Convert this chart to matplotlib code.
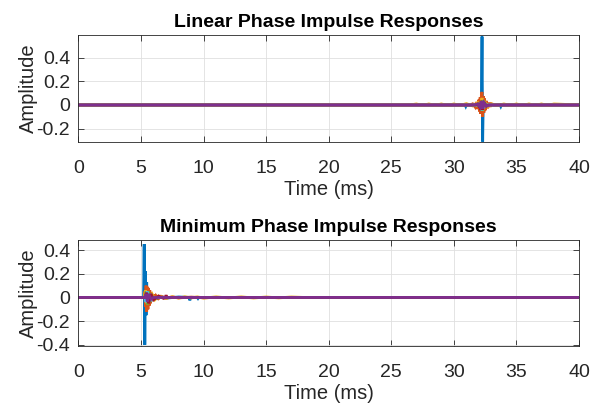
import matplotlib.pyplot as plt
import numpy as np

plt.rcParams['font.family'] = ['Liberation Sans', 'DejaVu Sans']

# MATLAB default colour order
colors = ['#0072BD', '#D95319', '#EDB120', '#77AC30', '#4DBEEE', '#A2142F', '#7E2F8E']

# ---- linear phase responses (time in ms, amplitude) ----
lin_t_blue = [0, 30.9, 30.95, 31.0, 31.8, 32.0, 32.1, 32.2, 32.25, 32.3, 32.35, 32.45, 32.6, 33.7, 33.75, 33.8, 40]
lin_a_blue = [0, 0, -0.012, 0, 0, 0.01, -0.02, 0.05, 0.58, -0.31, 0.04, -0.01, 0, 0, -0.012, 0, 0]

lin_t_orange = [0, 31.3, 31.5, 31.7, 31.8, 31.9, 32.0, 32.05, 32.1, 32.15, 32.2, 32.25, 32.3, 32.35,
                32.4, 32.45, 32.5, 32.6, 32.7, 32.8, 32.9, 33.0, 33.2, 40]
lin_a_orange = [0, 0, 0.01, -0.018, 0.025, -0.035, 0.045, -0.055, 0.065, -0.075, 0.09, 0.11, -0.10,
                0.075, -0.065, 0.055, -0.045, 0.035, -0.028, 0.02, -0.015, 0.01, 0, 0]

lin_t_yellow = [0, 26.5, 27.0, 27.5, 28.0, 28.5, 29.0, 29.5, 30.0, 30.5, 31.0, 31.5, 31.9, 32.1,
                32.25, 32.3, 32.45, 32.7, 33.0, 33.5, 34.0, 34.5, 35.0, 35.5, 36.0, 36.5, 37.0,
                37.5, 38.0, 40]
lin_a_yellow = [0, 0, 0.009, -0.004, 0.009, -0.004, 0.009, -0.004, 0.009, -0.004, 0.012, -0.008,
                0.02, -0.03, 0.06, -0.05, 0.03, -0.015, 0.01, -0.004, 0.009, -0.004, 0.009, -0.004,
                0.009, -0.004, 0.009, -0.004, 0.009, 0]

lin_t_green = [0, 31.8, 32.0, 32.1, 32.2, 32.25, 32.3, 32.35, 32.45, 32.6, 40]
lin_a_green = [0, 0, 0.01, -0.02, 0.03, -0.05, 0.04, -0.03, 0.02, 0, 0]

lin_t_cyan = [0, 31.9, 32.05, 32.15, 32.25, 32.3, 32.4, 32.55, 40]
lin_a_cyan = [0, 0, -0.015, 0.025, -0.045, 0.035, -0.02, 0, 0]

lin_t_red = [0, 31.7, 31.9, 32.05, 32.2, 32.3, 32.4, 32.6, 32.8, 40]
lin_a_red = [0, 0, 0.008, -0.02, 0.035, -0.04, 0.025, -0.01, 0, 0]

lin_t_purple = [0, 31.6, 31.9, 32.1, 32.2, 32.3, 32.4, 32.6, 32.9, 40]
lin_a_purple = [0, 0, 0.01, -0.02, 0.03, -0.03, 0.02, -0.01, 0, 0]

# ---- minimum phase responses ----
min_t_blue = [0, 5.2, 5.25, 5.3, 5.35, 5.4, 5.45, 5.5, 5.55, 5.6, 5.65, 5.7, 5.8, 5.9, 6.0,
              6.3, 6.6, 7.0, 8.0, 8.85, 8.9, 8.95, 9.5, 9.55, 9.6, 40]
min_a_blue = [0, 0, 0.45, -0.40, 0.22, -0.15, 0.13, -0.10, 0.08, -0.06, 0.05, -0.03, 0.02,
              -0.015, 0.01, -0.01, 0.008, -0.006, 0.004, 0, -0.025, 0, 0, -0.008, 0, 0]

min_t_orange = [0, 5.25, 5.3, 5.35, 5.4, 5.45, 5.5, 5.55, 5.6, 5.65, 5.7, 5.75, 5.8, 5.9, 6.0,
                6.1, 6.2, 6.4, 6.6, 7.0, 7.5, 8.0, 9.0, 10.0, 11.0, 40]
min_a_orange = [0, 0, 0.05, -0.08, 0.10, -0.12, 0.09, -0.10, 0.08, -0.07, 0.06, -0.05, 0.04,
                -0.03, 0.025, -0.02, 0.015, -0.01, 0.01, -0.006, 0.005, -0.004, 0.003, -0.003, 0, 0]

min_t_yellow = [0, 5.25, 5.35, 5.45, 5.55, 5.7, 5.9, 6.1, 6.4, 7.0, 7.5, 8.0, 8.5, 9.0, 9.5,
                10.0, 11.0, 12.0, 13.0, 14.0, 15.0, 16.0, 17.0, 18.0, 40]
min_a_yellow = [0, 0, 0.06, -0.05, 0.04, -0.03, 0.025, -0.02, 0.012, -0.008, 0.006, -0.006,
                0.006, -0.005, 0.005, -0.006, 0.005, -0.005, 0.005, -0.005, 0.004, -0.004, 0.004, 0, 0]

min_t_green = [0, 5.3, 5.4, 5.5, 5.6, 5.7, 5.8, 6.0, 6.3, 40]
min_a_green = [0, 0, 0.05, -0.06, 0.05, -0.04, 0.03, -0.015, 0, 0]

min_t_cyan = [0, 5.3, 5.4, 5.5, 5.6, 5.75, 5.9, 6.2, 40]
min_a_cyan = [0, 0, -0.04, 0.05, -0.045, 0.03, -0.02, 0, 0]

min_t_red = [0, 5.3, 5.45, 5.6, 5.8, 6.0, 6.4, 6.8, 6.95, 7.0, 7.05, 40]
min_a_red = [0, 0, 0.04, -0.05, 0.03, -0.02, 0.012, -0.008, 0, 0.02, 0, 0]

min_t_purple = [0, 5.3, 5.4, 5.5, 5.6, 5.8, 6.0, 40]
min_a_purple = [0, 0, 0.03, -0.035, 0.03, -0.015, 0, 0]

x_ticks = [0, 5, 10, 15, 20, 25, 30, 35, 40]

lin_series = [(lin_t_blue, lin_a_blue), (lin_t_orange, lin_a_orange), (lin_t_yellow, lin_a_yellow),
              (lin_t_green, lin_a_green), (lin_t_cyan, lin_a_cyan), (lin_t_red, lin_a_red),
              (lin_t_purple, lin_a_purple)]
min_series = [(min_t_blue, min_a_blue), (min_t_orange, min_a_orange), (min_t_yellow, min_a_yellow),
              (min_t_green, min_a_green), (min_t_cyan, min_a_cyan), (min_t_red, min_a_red),
              (min_t_purple, min_a_purple)]

fig = plt.figure(figsize=(6.01, 4.09), dpi=100, facecolor='white')
ax1 = fig.add_axes([0.1306, 0.6535, 0.8328, 0.261])
ax2 = fig.add_axes([0.1306, 0.154, 0.8328, 0.259])

panels = [
    (ax1, lin_series, 'Linear Phase Impulse Responses', (-0.311, 0.593), [-0.2, 0, 0.2, 0.4]),
    (ax2, min_series, 'Minimum Phase Impulse Responses', (-0.41, 0.484), [-0.4, -0.2, 0, 0.2, 0.4]),
]

for ax, series, title, ylim, yticks in panels:
    for (t, a), c in zip(series, colors):
        ax.plot(t, a, color=c, lw=2, solid_joinstyle='miter')
    ax.set_xlim(0, 40)
    ax.set_ylim(*ylim)
    ax.set_xticks(x_ticks)
    ax.set_yticks(yticks)
    ax.set_yticklabels([f'{v:g}' for v in yticks])
    ax.grid(True, color='#dfdfdf', lw=0.6)
    ax.set_axisbelow(True)
    for s in ax.spines.values():
        s.set_color('#262626')
        s.set_linewidth(0.6)
    ax.tick_params(direction='in', length=4, width=0.6, top=True, right=True,
                   labelsize=14, colors='#262626')
    ax.tick_params(axis='x', pad=13)
    ax.tick_params(axis='y', pad=6)
    ax.set_xlabel('Time (ms)', fontsize=14.5, color='#262626', labelpad=2)
    ax.set_ylabel('Amplitude', fontsize=14.5, color='#262626', labelpad=-1)
    ax.set_title(title, fontsize=14, fontweight='bold', color='black', pad=6)

plt.savefig('out.png', dpi=100, facecolor='white')
